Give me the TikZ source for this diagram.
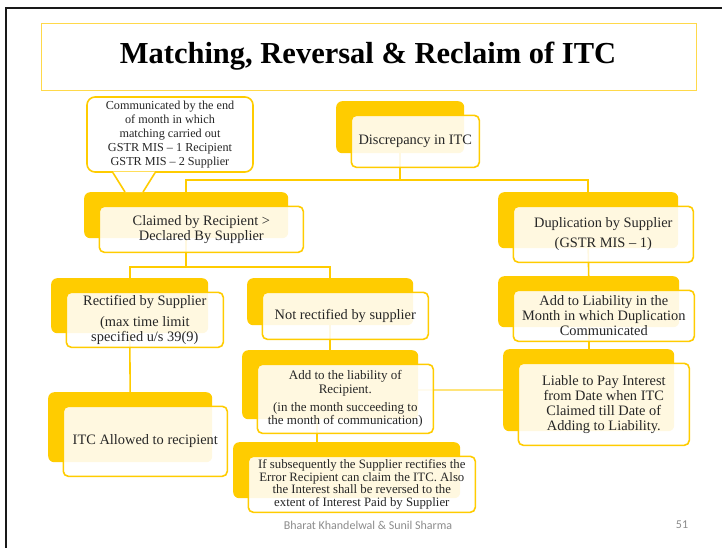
\documentclass[tikz,border=0pt]{standalone}
\usepackage{fontspec}
\setmainfont{Liberation Serif}
\newfontfamily\footfont{Carlito}
\usetikzlibrary{calc}

\definecolor{gold}{HTML}{FFCC00}
\definecolor{paleGold}{HTML}{FFE47A}
\definecolor{titleGold}{HTML}{FFD94A}
\definecolor{ink}{HTML}{262626}
\definecolor{footgray}{HTML}{8C8C8C}

\pgfdeclarelayer{bg}
\pgfdeclarelayer{links}
\pgfsetlayers{bg,links,main}

\tikzset{
  backbox/.style={fill=gold, rounded corners=6pt, inner sep=0pt, anchor=north west},
  frontbox/.style={draw=gold, line width=1.6pt, fill=white, fill opacity=0.88,
    text opacity=1, rounded corners=5pt, inner sep=0pt, anchor=north west,
    text=ink, align=center, font=\fontsize{14.4}{15}\selectfont},
  link/.style={draw=gold, line width=1.6pt},
  softlink/.style={draw=paleGold, line width=1.6pt},
  smalltext/.style={font=\fontsize{12.8}{12.7}\selectfont},
  midtext/.style={font=\fontsize{13}{13.5}\selectfont},
}

% a yellow backing card with a translucent framed card on top of it
% #1 name, #2..#5 corners of the backing card, #6 extra style, #7 text
\newcommand\stackbox[7]{%
  \node[backbox, minimum width={(#4-#2)*1pt}, minimum height={(#5-#3)*1pt}] (#1b) at (#2,#3) {};
  \node[frontbox, minimum width={(#4-#2)*1pt}, minimum height={(#5-#3)*1pt}, #6] (#1) at (#2+14.5,#3+13.5) {#7};
}

\begin{document}
\begin{tikzpicture}[x=1pt, y=-1pt]
\useasboundingbox (0,0) rectangle (722,547);
\begin{pgfonlayer}{bg}
  \fill[white] (0,0) rectangle (722,547);
  \draw[black!90, line width=2.2pt] (6,560) -- (6,8) -- (740,8);
\end{pgfonlayer}

% heading
\node[draw=titleGold, line width=1pt, minimum width=655pt, minimum height=67pt, inner sep=0pt] (titlebox) at (368.5,56.5) {};
\node[font=\bfseries\fontsize{30.5}{32}\selectfont, text=black] (title) at (368,56) {Matching, Reversal \& Reclaim of ITC};

% cards
\stackbox{disc}{336}{101}{464}{153}{}{Discrepancy in ITC}
\stackbox{claimed}{84}{192}{288}{238}{}{Claimed by Recipient >\\Declared By Supplier}
\stackbox{dup}{498}{192}{678}{248}{}{Duplication by Supplier\\[5pt](GSTR MIS – 1)}
\stackbox{rect}{51}{278}{208}{333}{}{Rectified by Supplier\\[6pt](max time limit\\specified u/s 39(9)}
\stackbox{notr}{247}{278}{413}{325}{}{Not rectified by supplier}
\stackbox{addl}{498}{276}{679}{327}{}{Add to Liability in the\\Month in which Duplication\\Communicated}
\stackbox{itc}{48}{392}{212}{462}{}{ITC Allowed to recipient}
\stackbox{addr}{242}{350}{418}{419}{midtext}{Add to the liability of\\Recipient.\\[4.5pt](in the month succeeding to\\the month of communication)}
\stackbox{liab}{503}{349}{674}{431}{}{Liable to Pay Interest\\from Date when ITC\\Claimed till Date of\\Adding to Liability.}
\stackbox{ifs}{233}{442}{460}{498}{smalltext}{If subsequently the Supplier rectifies the\\Error Recipient can claim the ITC. Also\\the Interest shall be reversed to the\\extent of Interest Paid by Supplier}

% connectors between the cards
\coordinate (busA) at (0,180);
\coordinate (busB) at (0,267);
\begin{pgfonlayer}{links}
  \draw[link] (discb.south) -- (discb.south |- busA);
  \draw[link] (claimedb.north) -- (claimedb.north |- busA) -- (dupb.north |- busA) -- (dupb.north);
  \draw[link] (claimedb.south) -- (claimedb.south |- busB);
  \draw[link] (rectb.north) -- (rectb.north |- busB) -- (notrb.north |- busB) -- (notrb.north);
  \draw[link] (rectb.south) -- (itcb.north);
  \draw[link] (notrb.south) -- (addrb.north);
  \draw[link] ([xshift=-13pt]addrb.south) -- ([xshift=-13pt]addrb.south |- ifsb.north);
  \draw[link] (dupb.south) -- (addlb.north);
  \draw[link] (addlb.south) -- (liabb.north);
  \draw[softlink] (liabb.west) -- (liabb.west -| addrb.east);
\end{pgfonlayer}

% speech-bubble note above the left branch
\node[draw=gold, line width=1.6pt, fill=white, rounded corners=8pt, minimum width=166pt,
  minimum height=75pt, inner sep=0pt, align=center, text=ink,
  font=\fontsize{12.2}{14}\selectfont] (note) at (170,134.5)
  {Communicated by the end\\of month in which\\matching carried out\\GSTR MIS – 1 Recipient\\GSTR MIS – 2 Supplier};
\path ($(note.south)+(-57,0)$) coordinate (tl)
      ($(note.south)+(-45,0)$) coordinate (bl)
      ($(note.south)+(-27,0)$) coordinate (br)
      ($(note.south)+(-15,0)$) coordinate (tr);
\fill[white] ([yshift=1.2pt]tl) -- (bl |- claimedb.north) -- (br |- claimedb.north) -- ([yshift=1.2pt]tr) -- cycle;
\draw[gold, line width=1.6pt] (tl) -- (bl |- claimedb.north);
\draw[gold, line width=1.6pt] (tr) -- (br |- claimedb.north);

% footer
\node[font=\footfont\fontsize{12}{14}\selectfont, text=footgray] (foot) at (368,525) {Bharat Khandelwal \& Sunil Sharma};
\node[font=\footfont\fontsize{12}{14}\selectfont, text=footgray] (pageno) at (682,525) {51};
\end{tikzpicture}
\end{document}
